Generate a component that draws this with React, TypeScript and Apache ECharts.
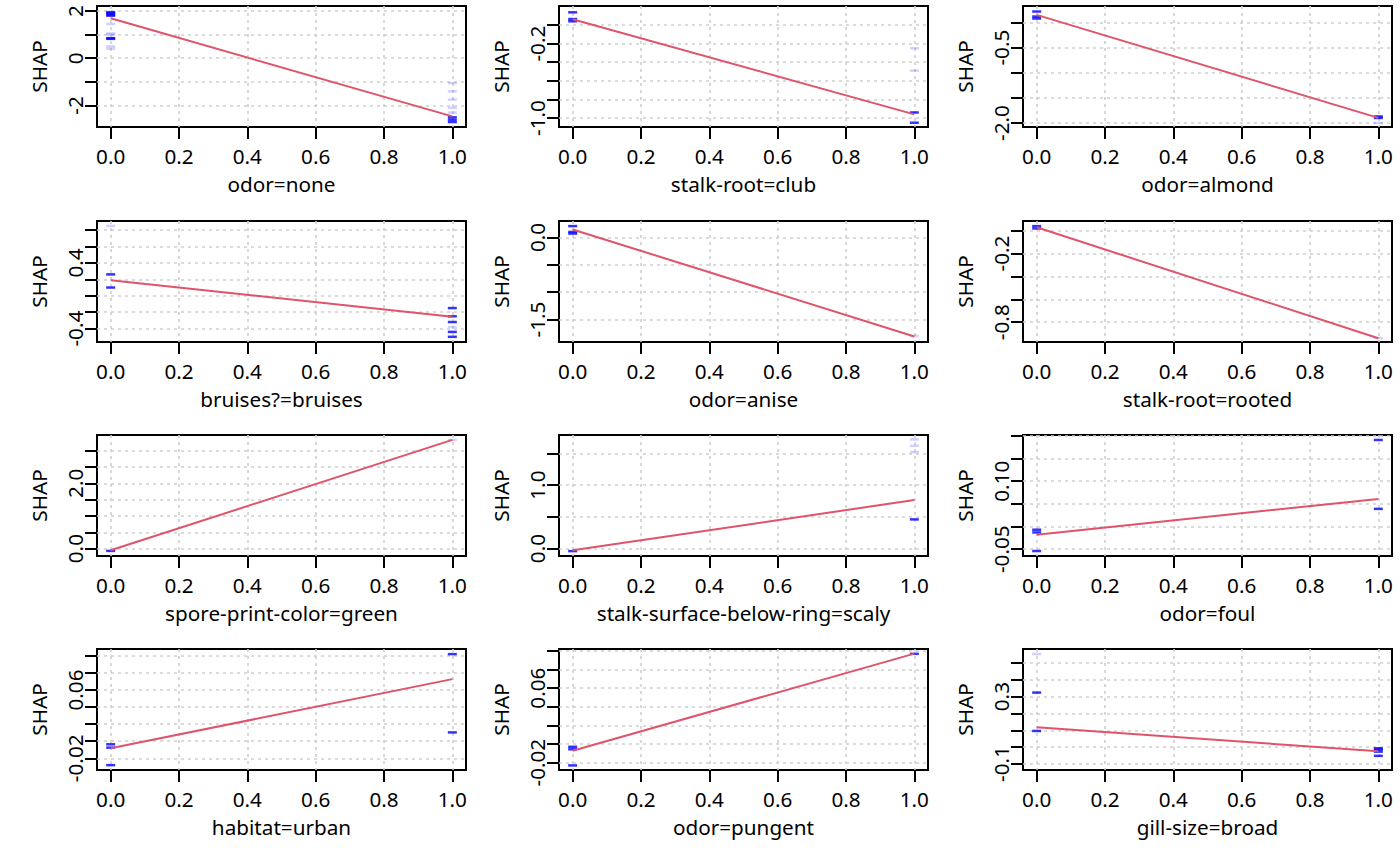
import React, { useEffect, useRef } from "react";
import * as echarts from "echarts";

const features = [
  "odor=none",
  "stalk-root=club",
  "odor=almond",
  "bruises?=bruises",
  "odor=anise",
  "stalk-root=rooted",
  "spore-print-color=green",
  "stalk-surface-below-ring=scaly",
  "odor=foul",
  "habitat=urban",
  "odor=pungent",
  "gill-size=broad",
];

const yMin = [-2.91, -1.096, -2.08, -0.563, -1.91, -0.973, -0.226, -0.117, -0.065, -0.0337, -0.0279, -0.136];
const yMax = [2.21, 0.204, 0.33, 0.91, 0.3, 0.085, 3.48, 1.79, 0.202, 0.108, 0.102, 0.583];

const yTicks = [
  [-2, -1, 0, 1, 2],
  [-1, -0.8, -0.6, -0.4, -0.2, 0],
  [-2, -1.5, -1, -0.5, 0],
  [-0.4, -0.2, 0, 0.2, 0.4, 0.6, 0.8],
  [-1.5, -1, -0.5, 0],
  [-0.8, -0.6, -0.4, -0.2, 0],
  [0, 0.5, 1, 1.5, 2, 2.5, 3],
  [0, 0.5, 1, 1.5],
  [-0.05, 0, 0.05, 0.1, 0.15, 0.2],
  [-0.02, 0, 0.02, 0.04, 0.06, 0.08, 0.1],
  [-0.02, 0, 0.02, 0.04, 0.06, 0.08, 0.1],
  [-0.1, 0, 0.1, 0.2, 0.3, 0.4, 0.5],
];

const yLabels = [
  ["-2", "0", "2"],
  ["-1.0", "-0.2"],
  ["-2.0", "-0.5"],
  ["-0.4", "0.4"],
  ["-1.5", "0.0"],
  ["-0.8", "-0.2"],
  ["0.0", "2.0"],
  ["0.0", "1.0"],
  ["-0.05", "0.10"],
  ["-0.02", "0.06"],
  ["-0.02", "0.06"],
  ["-0.1", "0.3"],
];

const xTicks = [0, 0.2, 0.4, 0.6, 0.8, 1.0];
const xLabels = ["0.0", "0.2", "0.4", "0.6", "0.8", "1.0"];

const fitStart = [1.69, 0.061, 0.153, 0.19, 0.146, 0.03, -0.05, -0.027, -0.018, -0.0083, -0.0072, 0.118];
const fitEnd = [-2.46, -0.96, -1.898, -0.256, -1.81, -0.94, 3.33, 0.765, 0.061, 0.0727, 0.097, -0.025];

const darkPoints: number[][][] = [
  [[0, 1.95], [0, 1.9], [0, 1.85], [0, 1.8], [0, 0.85], [0, 0.82], [1, -2.5], [1, -2.6], [1, -2.7]],
  [[0, 0.136], [0, 0.064], [0, 0.04], [1, -0.94], [1, -1.05]],
  [[0, 0.22], [0, 0.12], [0, 0.08], [1, -1.87], [1, -1.9]],
  [[0, 0.26], [0, 0.1], [1, -0.15], [1, -0.25], [1, -0.32], [1, -0.44], [1, -0.5]],
  [[0, 0.207], [0, 0.1], [0, 0.07]],
  [[0, 0.04], [0, 0.02]],
  [[0, -0.07]],
  [[0, -0.04], [1, 0.46]],
  [[0, -0.007], [0, -0.013], [0, -0.054], [1, 0.191], [1, 0.039]],
  [[0, -0.0036], [0, -0.0075], [0, -0.028], [1, 0.102], [1, 0.0103]],
  [[0, -0.003], [0, -0.0057], [0, -0.023], [1, 0.0968]],
  [[0, 0.324], [0, 0.096], [1, -0.007], [1, -0.015], [1, -0.027], [1, -0.052]],
];

const lightPoints: number[][][] = [
  [[0, 1.45], [0, 1.05], [0, 1.0], [0, 0.5], [0, 0.4], [1, -1.05], [1, -1.4], [1, -1.75], [1, -2.1], [1, -2.3]],
  [[1, -0.25], [1, -0.49]],
  [[1, -2.0]],
  [[0, 0.85], [1, -0.38]],
  [[1, -1.8]],
  [[1, -0.94]],
  [[1, 3.33]],
  [[1, 1.72], [1, 1.62], [1, 1.52]],
  [],
  [],
  [],
  [[0, 0.553]],
];

const FONT = "'Noto Sans', 'Open Sans', sans-serif";
const colLeft = [97, 559, 1023];
const rowTop = [6, 221, 435, 649];
const boxW = 369;
const boxH = 121;

export default function App() {
  const ref = useRef<HTMLDivElement>(null);
  useEffect(() => {
    document.body.style.margin = "0";
    const chart = echarts.init(ref.current!, null, { renderer: "svg" });
    const grids: any[] = [];
    const xAxes: any[] = [];
    const yAxes: any[] = [];
    const series: any[] = [];
    const txt = { fontFamily: FONT, fontSize: 20.7, color: "#000" };
    const gridLine = { show: true, lineStyle: { color: "#cfcfcf", type: [3, 4], width: 1.6 } };
    features.forEach((name, i) => {
      const r = Math.floor(i / 3);
      const c = i % 3;
      grids.push({
        left: colLeft[c],
        top: rowTop[r],
        width: boxW,
        height: boxH,
        show: true,
        borderColor: "#000",
        borderWidth: 2,
        backgroundColor: "transparent",
        containLabel: false,
      });
      xAxes.push({
        gridIndex: i,
        type: "value",
        position: "bottom",
        min: -0.04,
        max: 1.04,
        axisLine: { show: false, onZero: false },
        axisTick: { show: true, inside: false, length: 12, customValues: xTicks, lineStyle: { color: "#000", width: 2 } },
        axisLabel: {
          ...txt,
          customValues: xTicks,
          margin: 18,
          formatter: (v: number) => xLabels[xTicks.findIndex((t) => Math.abs(t - v) < 1e-9)] ?? "",
        },
        splitLine: gridLine,
        name,
        nameLocation: "middle",
        nameGap: 46,
        nameTextStyle: { ...txt, align: "center", verticalAlign: "top" },
      });
      const labVals = yLabels[i].map((s) => Number(s));
      yAxes.push({
        gridIndex: i,
        type: "value",
        position: "left",
        min: yMin[i],
        max: yMax[i],
        axisLine: { show: false, onZero: false },
        axisTick: { show: true, inside: false, length: 12, customValues: yTicks[i], lineStyle: { color: "#000", width: 2 } },
        axisLabel: {
          ...txt,
          customValues: labVals,
          rotate: 90,
          margin: 12,
          align: "center",
          verticalAlign: "bottom",
          formatter: (v: number) => yLabels[i][labVals.findIndex((t) => Math.abs(t - v) < 1e-9)] ?? "",
        },
        splitLine: gridLine,
        name: "SHAP",
        nameLocation: "middle",
        nameGap: 48,
        nameRotate: 90,
        nameTextStyle: { ...txt, align: "center", verticalAlign: "bottom" },
      });
      series.push({
        type: "scatter",
        xAxisIndex: i,
        yAxisIndex: i,
        data: lightPoints[i],
        symbol: "rect",
        symbolSize: [9, 2.5],
        itemStyle: { color: "rgba(90,90,255,0.35)" },
        silent: true,
        z: 3,
      });
      series.push({
        type: "scatter",
        xAxisIndex: i,
        yAxisIndex: i,
        data: darkPoints[i],
        symbol: "rect",
        symbolSize: [9, 2.5],
        itemStyle: { color: "#0000FF" },
        silent: true,
        z: 4,
      });
      series.push({
        type: "line",
        xAxisIndex: i,
        yAxisIndex: i,
        data: [
          [0, fitStart[i]],
          [1, fitEnd[i]],
        ],
        showSymbol: false,
        symbol: "none",
        lineStyle: { color: "#DF536B", width: 2 },
        silent: true,
        z: 5,
      });
    });
    chart.setOption({
      animation: false,
      backgroundColor: "#fff",
      textStyle: { fontFamily: FONT },
      grid: grids,
      xAxis: xAxes,
      yAxis: yAxes,
      series,
    });
    return () => chart.dispose();
  }, []);
  return <div ref={ref} style={{ width: 1400, height: 866, background: "#fff" }} />;
}
